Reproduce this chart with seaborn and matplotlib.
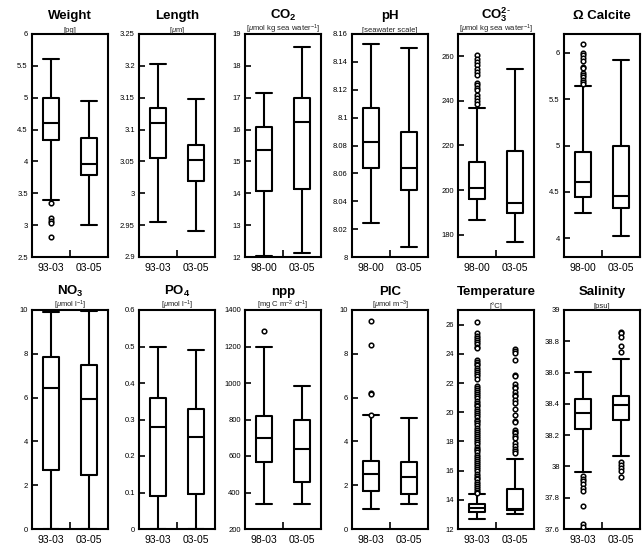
import numpy as np
import pandas as pd
import matplotlib
matplotlib.use("Agg")
import matplotlib.pyplot as plt
from matplotlib.ticker import FuncFormatter, FixedLocator
import seaborn as sns

# five-number summaries per period: [low whisker, Q1, median, Q3, high whisker]
weight_groups = ["93-03", "03-05"]
weight_stats = [[3.39, 4.34, 4.60, 4.99, 5.61], [3.00, 3.78, 3.96, 4.37, 4.95]]
weight_fliers = [[3.35, 3.11, 3.07, 3.04, 2.81], []]

length_groups = ["93-03", "03-05"]
length_stats = [[2.955, 3.055, 3.110, 3.134, 3.203], [2.941, 3.019, 3.052, 3.076, 3.148]]
length_fliers = [[], []]

co2_groups = ["98-00", "03-05"]
co2_stats = [[12.04, 14.07, 15.35, 16.08, 17.14], [12.14, 14.12, 16.25, 16.99, 18.59]]
co2_fliers = [[], []]

ph_groups = ["98-00", "03-05"]
ph_stats = [[8.0245, 8.0642, 8.0824, 8.107, 8.153], [8.0075, 8.048, 8.064, 8.090, 8.150]]
ph_fliers = [[], []]

co3_groups = ["98-00", "03-05"]
co3_stats = [[186.8, 195.9, 201.0, 212.4, 237.0], [176.8, 189.8, 194.3, 217.6, 254.1]]
co3_fliers = [[260.5, 259, 257.5, 256, 254.5, 253, 251.5, 248, 247, 246, 245,
               242.5, 241.5, 240, 238.5], []]

omega_groups = ["98-00", "03-05"]
omega_stats = [[4.27, 4.45, 4.61, 4.93, 5.64], [4.03, 4.33, 4.46, 5.00, 5.92]]
omega_fliers = [[6.09, 6.0, 5.97, 5.94, 5.91, 5.85, 5.83, 5.78, 5.76, 5.74,
                 5.71, 5.68, 5.66], []]

no3_groups = ["93-03", "03-05"]
no3_stats = [[0.0, 2.69, 6.43, 7.86, 9.9], [0.0, 2.46, 5.92, 7.50, 9.97]]
no3_fliers = [[], []]

po4_groups = ["93-03", "03-05"]
po4_stats = [[0.0, 0.09, 0.28, 0.36, 0.50], [0.0, 0.097, 0.252, 0.329, 0.49]]
po4_fliers = [[], []]

npp_groups = ["98-03", "03-05"]
npp_stats = [[336, 568, 696, 820, 1196], [336, 460, 637, 798, 986]]
npp_fliers = [[1287], []]

pic_groups = ["98-03", "03-05"]
pic_stats = [[0.91, 1.75, 2.52, 3.12, 5.21], [1.12, 1.58, 2.37, 3.08, 5.05]]
pic_fliers = [[9.5, 8.4, 6.2, 6.15, 5.22], []]

temp_groups = ["93-03", "03-05"]
temp_stats = [[12.68, 13.18, 13.45, 13.68, 14.43], [13.02, 13.29, 13.40, 14.72, 16.82]]
temp_fliers = [
    [26.2, 25.4, 25.25, 25.1, 24.95, 24.8, 24.65, 24.5, 24.4,
     23.6, 23.45, 23.3, 23.2, 23.05, 22.9, 22.75, 22.6, 22.45, 22.3,
     21.8, 21.65, 21.5, 21.4, 21.25, 21.1, 20.95, 20.8, 20.65, 20.5, 20.4,
     20.25, 20.1, 19.95, 19.8, 19.65, 19.5, 19.4, 19.25, 19.1, 18.95, 18.8,
     18.65, 18.5, 18.4, 18.25, 18.1, 17.95, 17.8, 17.65, 17.5, 17.4, 17.25,
     17.1, 16.95, 16.8, 16.65, 16.5, 16.4, 16.25, 16.1, 15.95, 15.8, 15.65,
     15.5, 15.4, 15.25, 15.1, 14.95, 14.8, 14.65, 14.55, 14.5],
    [24.36, 24.22, 24.07, 23.6, 22.58, 22.47, 21.9, 21.76, 21.67, 21.4, 21.2,
     21.08, 20.83, 20.6, 20.24, 19.8, 19.4, 19.3, 18.76, 18.66, 18.55, 18.37,
     18.2, 17.9, 17.7, 17.5, 17.35, 17.22],
]

sal_groups = ["93-03", "03-05"]
sal_stats = [[37.964, 38.24, 38.34, 38.43, 38.605], [38.065, 38.294, 38.39, 38.452, 38.685]]
sal_fliers = [[37.94, 37.92, 37.91, 37.89, 37.86, 37.84, 37.75, 37.63, 37.615],
              [38.86, 38.85, 38.83, 38.77, 38.73, 38.03, 38.01, 37.99, 37.97, 37.93]]

sns.set_theme(style="ticks")
plt.rcParams["font.family"] = ["Liberation Sans", "DejaVu Sans"]
plt.rcParams["text.color"] = "black"
plt.rcParams["mathtext.fontset"] = "custom"
plt.rcParams["mathtext.rm"] = "Liberation Sans"
plt.rcParams["mathtext.it"] = "Liberation Sans:italic"
plt.rcParams["mathtext.bf"] = "Liberation Sans:bold"

panels = [
    ("Weight", "[pg]", weight_groups, weight_stats, weight_fliers, (2.5, 6), [2.5, 3, 3.5, 4, 4.5, 5, 5.5, 6]),
    ("Length", r"[$\mu$m]", length_groups, length_stats, length_fliers, (2.9, 3.25), [2.9, 2.95, 3, 3.05, 3.1, 3.15, 3.2, 3.25]),
    (r"$\mathbf{CO_2}$", r"[$\mu$mol kg sea water$^{-1}$]", co2_groups, co2_stats, co2_fliers, (12, 19), [12, 13, 14, 15, 16, 17, 18, 19]),
    ("pH", "[seawater scale]", ph_groups, ph_stats, ph_fliers, (8, 8.16), [8, 8.02, 8.04, 8.06, 8.08, 8.1, 8.12, 8.14, 8.16]),
    (r"$\mathbf{CO_3^{2\text{-}}}$", r"[$\mu$mol kg sea water$^{-1}$]", co3_groups, co3_stats, co3_fliers, (170, 270), [180, 200, 220, 240, 260]),
    ("Ω Calcite", "", omega_groups, omega_stats, omega_fliers, (3.8, 6.2), [4, 4.5, 5, 5.5, 6]),
    (r"$\mathbf{NO_3}$", r"[$\mu$mol l$^{-1}$]", no3_groups, no3_stats, no3_fliers, (0, 10), [0, 2, 4, 6, 8, 10]),
    (r"$\mathbf{PO_4}$", r"[$\mu$mol l$^{-1}$]", po4_groups, po4_stats, po4_fliers, (0, 0.6), [0, 0.1, 0.2, 0.3, 0.4, 0.5, 0.6]),
    ("npp", r"[mg C m$^{-2}$ d$^{-1}$]", npp_groups, npp_stats, npp_fliers, (200, 1400), [200, 400, 600, 800, 1000, 1200, 1400]),
    ("PIC", r"[$\mu$mol m$^{-3}$]", pic_groups, pic_stats, pic_fliers, (0, 10), [0, 2, 4, 6, 8, 10]),
    ("Temperature", "[°C]", temp_groups, temp_stats, temp_fliers, (12, 27), [12, 14, 16, 18, 20, 22, 24, 26]),
    ("Salinity", "[psu]", sal_groups, sal_stats, sal_fliers, (37.6, 39), [37.6, 37.8, 38, 38.2, 38.4, 38.6, 38.8, 39]),
]

W, H = 642, 547
fig = plt.figure(figsize=(W / 100, H / 100), dpi=100)
lefts = [32, 139, 245, 352, 458, 564]
rows = [(34, 257), (310, 529)]
title_lift = [11, 11]  # points between axes top and title baseline
fmt = FuncFormatter(lambda v, p: f"{v:g}")

for i, (title, units, groups, stats, fliers, ylim, yticks) in enumerate(panels):
    top, bottom = rows[i // 6]
    left = lefts[i % 6]
    ax = fig.add_axes([left / W, 1 - bottom / H, 76 / W, (bottom - top) / H])

    box_df = pd.DataFrame(
        [(g, v) for g, s in zip(groups, stats) for v in s],
        columns=["period", "value"])
    sns.boxplot(data=box_df, x="period", y="value", order=groups,
                whis=(0, 100), width=0.42, fill=False, color="black",
                linewidth=1.5, capwidths=0.42, ax=ax)

    fl_df = pd.DataFrame(
        [(g, v) for g, f in zip(groups, fliers) for v in f],
        columns=["period", "value"])
    if len(fl_df):
        sns.stripplot(data=fl_df, x="period", y="value", order=groups,
                      jitter=False, color="white", edgecolor="black",
                      linewidth=1.1, size=3.3, ax=ax, zorder=3)

    ax.set_xlim(-0.5, 1.5)
    ax.set_ylim(*ylim)
    ax.yaxis.set_major_locator(FixedLocator(yticks))
    ax.yaxis.set_major_formatter(fmt)
    ax.set_xlabel("")
    ax.set_ylabel("")
    for sp in ax.spines.values():
        sp.set_visible(True)
        sp.set_linewidth(1.5)
        sp.set_color("black")
    ax.tick_params(axis="y", direction="in", length=4, width=1.2,
                   labelsize=5.5, pad=3, colors="black")
    ax.tick_params(axis="x", which="major", length=0, labelsize=7.5,
                   pad=4, colors="black")
    ax.xaxis.set_minor_locator(FixedLocator([0.5]))
    ax.tick_params(axis="x", which="minor", direction="in", length=5,
                   width=1.2, color="black")

    ax.annotate(units, xy=(0.5, 1), xycoords="axes fraction",
                xytext=(0, 1.8), textcoords="offset points",
                ha="center", va="baseline", fontsize=5.5, color="#222222")
    ax.annotate(title, xy=(0.5, 1), xycoords="axes fraction",
                xytext=(0, title_lift[i // 6]), textcoords="offset points",
                ha="center", va="baseline", fontsize=9.5,
                fontweight="bold", color="black")

fig.savefig("out.png", dpi=100)
